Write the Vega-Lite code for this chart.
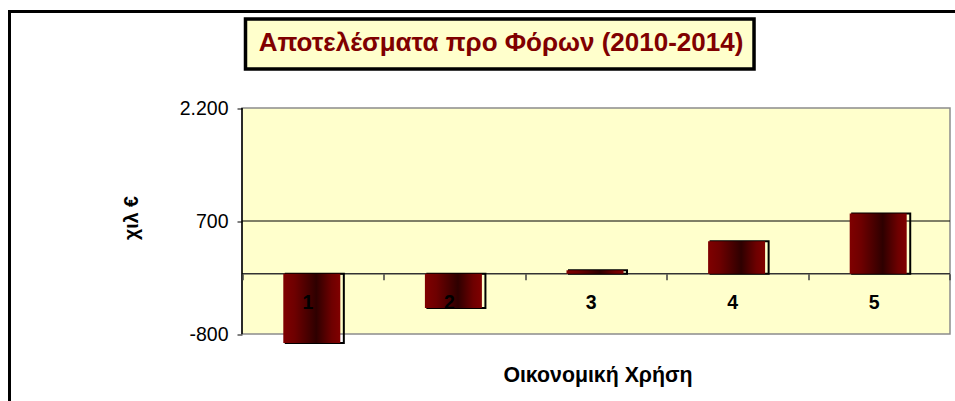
{
  "$schema": "https://vega.github.io/schema/vega-lite/v6.json",
  "autosize": "none",
  "padding": {"left": 9.5, "top": 11.5, "right": 0, "bottom": 0},
  "width": 947.5,
  "height": 391.5,
  "background": "white",
  "title": {
    "text": "Αποτελέσματα προ Φόρων (2010-2014)",
    "font": "Liberation Sans",
    "fontSize": 26,
    "fontWeight": "bold",
    "color": "#800000",
    "anchor": "middle",
    "frame": "group",
    "baseline": "alphabetic",
    "offset": -65,
    "dx": 17.75,
    "zindex": 2
  },
  "config": {"view": {"stroke": "black", "strokeWidth": 3, "fill": "white"}},
  "data": {
    "values": [
      {"year": "1", "value": -920},
      {"year": "2", "value": -455},
      {"year": "3", "value": 45},
      {"year": "4", "value": 430},
      {"year": "5", "value": 800}
    ]
  },
  "layer": [
    {
      "data": {"values": [{}]},
      "mark": {"type": "rect", "fill": "#FFFFCC", "stroke": "#8c8c8c", "strokeWidth": 1.5},
      "encoding": {
        "x": {"datum": "1", "type": "nominal", "bandPosition": 0},
        "x2": {"datum": "5", "bandPosition": 1},
        "y": {"datum": -800, "type": "quantitative"},
        "y2": {"datum": 2200}
      }
    },
    {
      "data": {"values": [{}]},
      "mark": {"type": "rect", "fill": "#FFFFCC", "stroke": "black", "strokeWidth": 3.5},
      "encoding": {
        "x": {"datum": "1", "type": "nominal", "bandPosition": 0.0247},
        "x2": {"datum": "4", "bandPosition": 0.616},
        "y": {"datum": 2717.7, "type": "quantitative"},
        "y2": {"datum": 3381.4}
      }
    },
    {
      "data": {"values": [{}]},
      "mark": {"type": "rule", "stroke": "black", "strokeWidth": 1},
      "encoding": {
        "x": {"datum": "1", "type": "nominal", "bandPosition": 0},
        "x2": {"datum": "5", "bandPosition": 1},
        "y": {"datum": 700, "type": "quantitative"}
      }
    },
    {
      "data": {"values": [{}]},
      "mark": {"type": "rule", "stroke": "#333333", "strokeWidth": 1.5},
      "encoding": {
        "x": {"datum": "1", "type": "nominal", "bandPosition": 0},
        "x2": {"datum": "5", "bandPosition": 1},
        "y": {"datum": 0, "type": "quantitative"}
      }
    },
    {
      "data": {"values": [{}]},
      "mark": {"type": "rule", "stroke": "black", "strokeWidth": 1.5},
      "encoding": {
        "x": {"datum": "1", "type": "nominal", "bandPosition": 0},
        "y": {"datum": -800, "type": "quantitative"},
        "y2": {"datum": 2200}
      }
    },
    {
      "mark": {"type": "bar", "fillOpacity": 0, "stroke": "black", "strokeWidth": 2, "width": {"band": 0.41}, "xOffset": 2},
      "encoding": {
        "x": {
          "field": "year",
          "type": "nominal",
          "scale": {"type": "band", "domain": ["1", "2", "3", "4", "5"], "paddingInner": 0, "paddingOuter": 0.8457, "align": 0.97077},
          "axis": {
            "orient": "bottom",
            "offset": -129.3,
            "domain": false,
            "grid": false,
            "ticks": true,
            "tickBand": "extent",
            "tickSize": 6,
            "tickColor": "#404040",
            "tickWidth": 1.5,
            "labelFont": "Liberation Sans",
            "labelFontSize": 19.5,
            "labelFontWeight": "bold",
            "labelColor": "black",
            "labelAngle": 0,
            "labelPadding": 14,
            "labelBaseline": "top",
            "title": "Οικονομική Χρήση",
            "titleFont": "Liberation Sans",
            "titleFontSize": 21.3,
            "titleFontWeight": "bold",
            "titleColor": "black",
            "titleX": 588,
            "titleY": 107.3,
            "titleAlign": "center",
            "titleBaseline": "alphabetic",
            "zindex": 1
          }
        },
        "y": {
          "field": "value",
          "type": "quantitative",
          "scale": {"type": "linear", "domain": [-1715.9, 3481.0], "nice": false, "zero": false},
          "axis": {
            "orient": "left",
            "offset": -232.5,
            "domain": false,
            "grid": false,
            "values": [-800, 700, 2200],
            "tickSize": 5,
            "tickColor": "black",
            "labelExpr": "replace(replace(format(datum.value, ','), ',', '.'), '\u2212', '-')",
            "labelFont": "Liberation Sans",
            "labelFontSize": 19.5,
            "labelColor": "black",
            "labelPadding": 9,
            "labelBaseline": "middle",
            "title": "χιλ €",
            "titleFont": "Liberation Sans",
            "titleFontSize": 19.5,
            "titleFontWeight": "bold",
            "titleColor": "black",
            "titleAngle": 270,
            "titleX": -105,
            "titleY": 206,
            "titleAlign": "center",
            "titleBaseline": "alphabetic",
            "zindex": 1
          }
        }
      }
    },
    {
      "mark": {
        "type": "bar",
        "width": {"band": 0.4025},
        "xOffset": -1,
        "stroke": null,
        "fill": {
          "gradient": "linear",
          "x1": 0, "y1": 0, "x2": 1, "y2": 0,
          "stops": [
            {"offset": 0, "color": "#800000"},
            {"offset": 0.2, "color": "#6e0000"},
            {"offset": 0.58, "color": "#2e0000"},
            {"offset": 0.85, "color": "#6e0000"},
            {"offset": 1, "color": "#800000"}
          ]
        }
      },
      "encoding": {
        "x": {"field": "year", "type": "nominal"},
        "y": {"field": "value", "type": "quantitative"}
      }
    }
  ]
}
